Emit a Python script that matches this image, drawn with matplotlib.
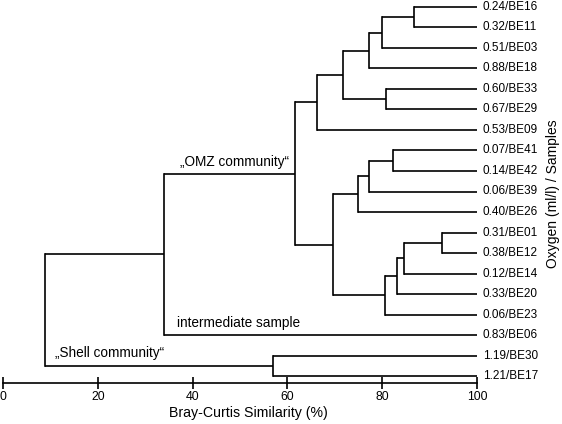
import matplotlib.pyplot as plt

plt.rcParams['font.family'] = ['Liberation Sans', 'DejaVu Sans']

# Leaves, top to bottom
samples = ['BE16', 'BE11', 'BE03', 'BE18', 'BE33', 'BE29', 'BE09', 'BE41', 'BE42', 'BE39',
           'BE26', 'BE01', 'BE12', 'BE14', 'BE20', 'BE23', 'BE06', 'BE30', 'BE17']
oxygen = ['0.24', '0.32', '0.51', '0.88', '0.60', '0.67', '0.53', '0.07', '0.14', '0.06',
          '0.40', '0.31', '0.38', '0.12', '0.33', '0.06', '0.83', '1.19', '1.21']

# Merges: new node id = 19 + row index; (child a, child b, similarity %)
merge_a = [0, 19, 20, 4, 21, 23, 7, 25, 26, 11, 28, 29, 30, 27, 24, 33, 17, 34]
merge_b = [1, 2, 3, 5, 22, 6, 8, 9, 10, 12, 13, 14, 15, 31, 32, 16, 18, 35]
merge_sim = [86.8, 80.0, 77.3, 80.9, 71.7, 66.2, 82.2, 77.2, 74.8, 92.6, 84.7, 83.1, 80.5,
             69.6, 61.5, 33.9, 56.9, 8.9]

n = len(samples)
ypos = {i: float(i) for i in range(n)}
xpos = {i: 100.0 for i in range(n)}

fig = plt.figure(figsize=(5.62, 4.24), dpi=100)
ax = fig.add_axes([3 / 562, 1 - 383 / 424, 474 / 562, 383 / 424])

lw = 1.2
for k, (a, b, s) in enumerate(zip(merge_a, merge_b, merge_sim)):
    node = n + k
    ax.plot([xpos[a], s], [ypos[a], ypos[a]], color='black', lw=lw, solid_capstyle='butt')
    ax.plot([xpos[b], s], [ypos[b], ypos[b]], color='black', lw=lw, solid_capstyle='butt')
    ax.plot([s, s], [ypos[a], ypos[b]], color='black', lw=lw, solid_capstyle='projecting')
    xpos[node] = s
    ypos[node] = (ypos[a] + ypos[b]) / 2

for i in range(n):
    ax.text(101.2, i, f'{oxygen[i]}/{samples[i]}', fontsize=8.5, va='center', ha='left',
            clip_on=False)

ax.text(60.4, ypos[33] - 0.2, '\u201eOMZ community\u201c', fontsize=9.8, ha='right', va='bottom')
ax.text(36.7, 15.43, 'intermediate sample', fontsize=9.8, ha='left', va='center')
ax.text(11.0, 16.86, '\u201eShell community\u201c', fontsize=9.8, ha='left', va='center')

ax.set_xlim(0, 100)
ax.set_ylim(18.34, -0.34)
for side in ['top', 'right', 'left']:
    ax.spines[side].set_visible(False)
ax.spines['bottom'].set_linewidth(1.2)
ax.set_yticks([])
ax.set_xticks([0, 20, 40, 60, 80, 100])
ax.tick_params(axis='x', direction='inout', length=8, width=1.2, labelsize=8.8, pad=2)
ax.set_xlabel('Bray-Curtis Similarity (%)', fontsize=10.2, va='center')
ax.xaxis.set_label_coords(0.518, -30 / 383)

fig.text(553 / 562, 1 - 194 / 424, 'Oxygen (ml/l) / Samples', rotation=90, fontsize=10,
         ha='center', va='center')

fig.savefig('out.png', dpi=100)
